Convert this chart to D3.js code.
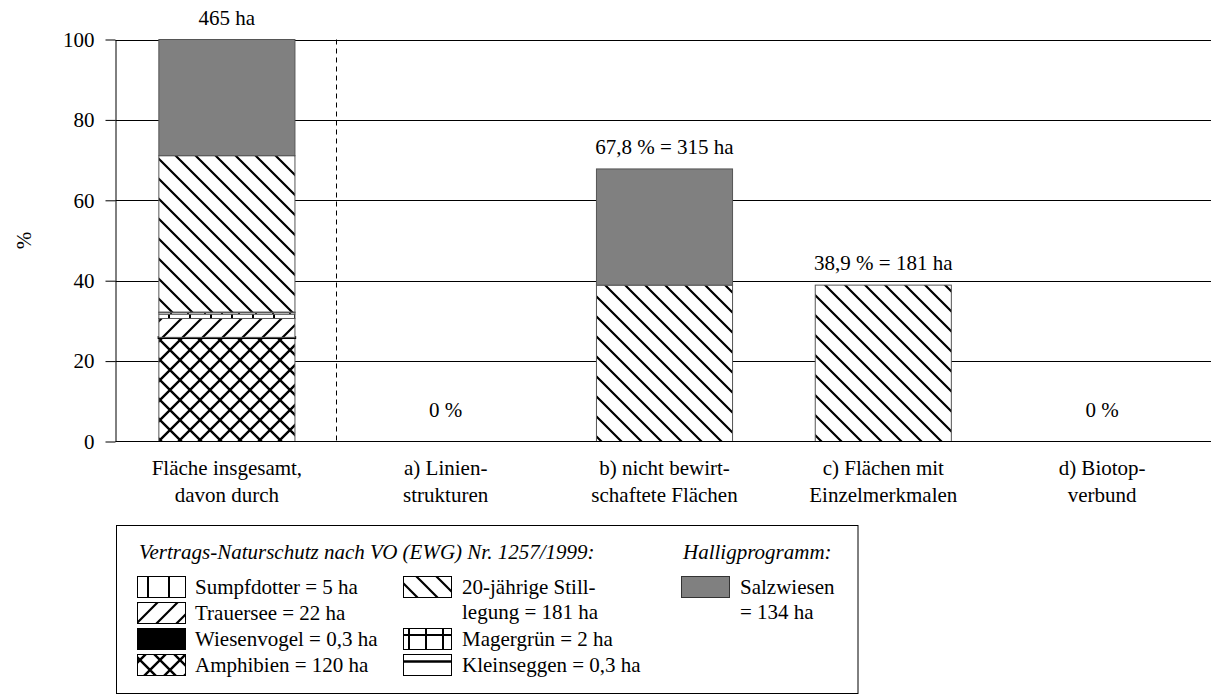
<!DOCTYPE html>
<html><head><meta charset="utf-8">
<script src="https://cdn.jsdelivr.net/npm/d3@7"></script>
<style>
@font-face{font-family:"ChartSerif";src:local("Liberation Serif"),local("LiberationSerif"),local("LiberationSerif-Regular");font-style:normal;}
@font-face{font-family:"ChartSerif";src:local("Liberation Serif Italic"),local("LiberationSerif-Italic");font-style:italic;}
</style>
</head><body style="margin:0">
<svg id="chart" width="1211" height="695"></svg>
<script>
// ---------- data ----------
const catLine1 = ["Fläche insgesamt,", "a) Linien-", "b) nicht bewirt-", "c) Flächen mit", "d) Biotop-"];
const catLine2 = ["davon durch", "strukturen", "schaftete Flächen", "Einzelmerkmalen", "verbund"];
const seriesKeys = ["Amphibien", "Wiesenvogel", "Trauersee", "Sumpfdotter", "Magergruen", "Kleinseggen", "Stilllegung", "Salzwiesen"];
// percent of total area (465 ha) per category
const amphibien   = [25.8, 0, 0, 0, 0];
const wiesenvogel = [0.1, 0, 0, 0, 0];
const trauersee   = [4.7, 0, 0, 0, 0];
const sumpfdotter = [1.1, 0, 0, 0, 0];
const magergruen  = [0.4, 0, 0, 0, 0];
const kleinseggen = [0.1, 0, 0, 0, 0];
const stilllegung = [38.9, 0, 38.9, 38.9, 0];
const salzwiesen  = [28.9, 0, 28.9, 0, 0];
const barLabels = ["465 ha", "0 %", "67,8 % = 315 ha", "38,9 % = 181 ha", "0 %"];
const yTicks = [0, 20, 40, 60, 80, 100];
const legendHeader1 = "Vertrags-Naturschutz nach VO (EWG) Nr. 1257/1999:";
const legendHeader2 = "Halligprogramm:";
const legendCol1 = [["Sumpfdotter", ["Sumpfdotter = 5 ha"]], ["Trauersee", ["Trauersee = 22 ha"]], ["Wiesenvogel", ["Wiesenvogel = 0,3 ha"]], ["Amphibien", ["Amphibien = 120 ha"]]];
const legendCol2 = [["Stilllegung", ["20-jährige Still-", "legung = 181 ha"]], null, ["Magergruen", ["Magergrün = 2 ha"]], ["Kleinseggen", ["Kleinseggen = 0,3 ha"]]];
const legendCol3 = [["Salzwiesen", ["Salzwiesen", "= 134 ha"]]];

const seriesData = {Amphibien: amphibien, Wiesenvogel: wiesenvogel, Trauersee: trauersee, Sumpfdotter: sumpfdotter, Magergruen: magergruen, Kleinseggen: kleinseggen, Stilllegung: stilllegung, Salzwiesen: salzwiesen};
const table = catLine1.map((c, i) => {
  const row = {cat: c};
  seriesKeys.forEach(k => row[k] = seriesData[k][i]);
  return row;
});

const FONT = '"Liberation Serif", ChartSerif, Tinos, "Times New Roman", serif';
const FS = 21;

// ---------- setup ----------
const svg = d3.select("#chart").attr("font-family", FONT);
const axisX = 115.5, plotRight = 1211;
const x = d3.scaleBand().domain(catLine1).range([117.5, 1211.5]).paddingInner(0.378).paddingOuter(0.189);
const y = d3.scaleLinear().domain([0, 100]).range([441.5, 39.5]);

function txt(sel) {
  return sel.attr("font-family", FONT).attr("font-size", FS).attr("fill", "#000");
}

// ---------- texts first ----------
const textLayer = svg.append("g").attr("font-family", FONT);

// patterns
const defs = svg.append("defs");
function pat(id, w, h, draw) {
  const p = defs.append("pattern").attr("id", id).attr("patternUnits", "userSpaceOnUse").attr("width", w).attr("height", h);
  p.append("rect").attr("width", w).attr("height", h).attr("fill", "#fff");
  draw(p);
}
pat("pDown", 20, 20, p => p.append("path").attr("d", "M0,0L20,20M-5,15L5,25M15,-5L25,5").attr("stroke", "#000").attr("stroke-width", 2.2));
pat("pUp", 20, 20, p => p.append("path").attr("d", "M0,20L20,0M-5,5L5,-5M15,25L25,15").attr("stroke", "#000").attr("stroke-width", 2.2));
pat("pCross", 20, 20, p => p.append("path").attr("d", "M0,0L20,20M-5,15L5,25M15,-5L25,5M0,20L20,0M-5,5L5,-5M15,25L25,15").attr("stroke", "#000").attr("stroke-width", 2.4));
pat("pVert", 21, 20, p => p.append("path").attr("d", "M1,0V20").attr("stroke", "#000").attr("stroke-width", 2));
pat("pMager", 17, 20, p => p.append("path").attr("d", "M1,0V20M0,15H17").attr("stroke", "#000").attr("stroke-width", 2));
pat("pKlein", 20, 21, p => p.append("path").attr("d", "M0,10.5H20").attr("stroke", "#000").attr("stroke-width", 2.5));

const fills = {Amphibien: "url(#pCross)", Wiesenvogel: "#000", Trauersee: "url(#pUp)", Sumpfdotter: "url(#pVert)", Magergruen: "url(#pMager)", Kleinseggen: "url(#pKlein)", Stilllegung: "url(#pDown)", Salzwiesen: "#808080"};

// gridlines
svg.append("g").selectAll("line").data(yTicks.filter(d => d > 0)).join("line")
  .attr("x1", axisX).attr("x2", plotRight)
  .attr("y1", d => Math.round(y(d)) + 0.5).attr("y2", d => Math.round(y(d)) + 0.5)
  .attr("stroke", "#000").attr("stroke-width", 1);

// dashed separator between first and second category
const sepX = Math.round((x(catLine1[0]) + x.bandwidth() + x(catLine1[1])) / 2) + 0.5;
svg.append("line").attr("x1", sepX).attr("x2", sepX).attr("y1", y(100)).attr("y2", y(0))
  .attr("stroke", "#000").attr("stroke-width", 1).attr("stroke-dasharray", "5,4");

// bars
const stack = d3.stack().keys(seriesKeys)(table);
svg.append("g").selectAll("g").data(stack).join("g")
  .attr("fill", d => fills[d.key])
  .selectAll("rect").data(d => d.map(v => ({v, key: d.key})).filter(o => o.v[1] - o.v[0] > 0)).join("rect")
  .attr("x", o => x(o.v.data.cat))
  .attr("width", x.bandwidth())
  .attr("y", o => y(o.v[1]))
  .attr("height", o => y(o.v[0]) - y(o.v[1]))
  .attr("stroke", o => o.key === "Wiesenvogel" ? "#000" : "#555")
  .attr("stroke-width", o => o.key === "Wiesenvogel" ? 2.5 : 1);

// x axis line
svg.append("line").attr("x1", axisX).attr("x2", plotRight).attr("y1", y(0)).attr("y2", y(0)).attr("stroke", "#000").attr("stroke-width", 1.2);

// y axis (ticks by d3 axis, then labels restyled)
const yAxis = svg.append("g").attr("transform", `translate(${axisX},0)`)
  .call(d3.axisLeft(y).tickValues(yTicks).tickSize(10).tickSizeOuter(0).tickPadding(11).tickFormat(d3.format("d")));
yAxis.attr("font-family", FONT).attr("font-size", FS);
yAxis.selectAll("path,line").attr("stroke", "#000");
txt(yAxis.selectAll("text"));

txt(svg.append("text")).attr("transform", `translate(31,${y(50)}) rotate(-90)`).attr("text-anchor", "middle").text("%");

// bar value labels
const totals = table.map(r => d3.sum(seriesKeys, k => r[k]));
txt(svg.append("g").selectAll("text").data(catLine1).join("text"))
  .attr("x", c => x(c) + x.bandwidth() / 2)
  .attr("y", (c, i) => totals[i] > 0 ? y(totals[i]) - 15 : y(6))
  .attr("text-anchor", "middle")
  .text((c, i) => barLabels[i]);

// category labels
const cl = txt(svg.append("g").selectAll("text").data(catLine1).join("text"))
  .attr("x", c => x(c) + x.bandwidth() / 2).attr("y", 475)
  .attr("text-anchor", "middle");
cl.append("tspan").text(c => c);
cl.append("tspan").attr("x", c => x(c) + x.bandwidth() / 2).attr("dy", 27).text((c, i) => catLine2[i]);

// legend
const lg = svg.append("g");
lg.append("rect").attr("x", 116.5).attr("y", 525.5).attr("width", 741.5).attr("height", 168).attr("fill", "none").attr("stroke", "#000");
txt(lg.append("text")).attr("x", 139).attr("y", 559).attr("font-style", "italic").text(legendHeader1);
txt(lg.append("text")).attr("x", 683).attr("y", 559).attr("font-style", "italic").text(legendHeader2);
const rowY = [587, 613, 639, 665];
function legendCol(items, sx, tx) {
  items.forEach((it, i) => {
    if (!it) return;
    const cy = rowY[i];
    lg.append("rect").attr("x", sx + 0.5).attr("y", cy - 10.5).attr("width", 48).attr("height", 21)
      .attr("fill", fills[it[0]]).attr("stroke", it[0] === "Salzwiesen" ? "#333" : "#000").attr("stroke-width", 1);
    it[1].forEach((line, j) => {
      txt(lg.append("text")).attr("x", tx).attr("y", cy + 7 + j * 25).text(line);
    });
  });
}
legendCol(legendCol1, 137, 195);
legendCol(legendCol2, 403, 462);
legendCol(legendCol3, 681, 740);
</script>
</body></html>
